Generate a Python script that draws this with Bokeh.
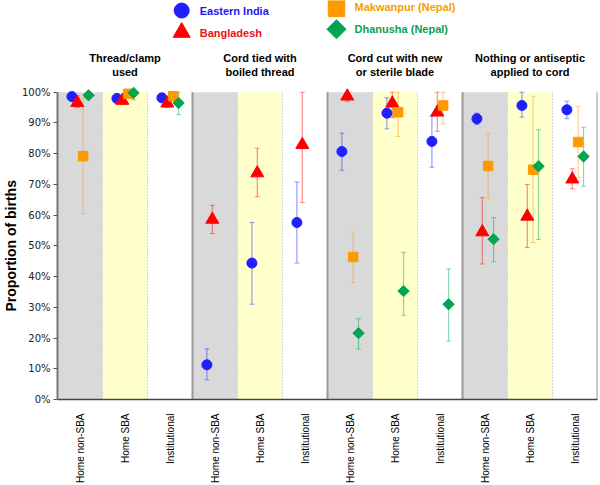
import numpy as np
from bokeh.plotting import figure
from bokeh.models import (ColumnDataSource, Whisker, TeeHead, FixedTicker,
                          NumeralTickFormatter, Range1d, Title)
from bokeh.core.properties import value
from bokeh.embed import file_html
from bokeh.resources import INLINE

# ---------------- data ----------------
title_line1 = ["Thread/clamp", "Cord tied with", "Cord cut with new", "Nothing or antiseptic"]
title_line2 = ["used", "boiled thread", "or sterile blade", "applied to cord"]
places = ["Home non-SBA", "Home SBA", "Institutional"]
y_ticks = [0.0, 0.1, 0.2, 0.3, 0.4, 0.5, 0.6, 0.7, 0.8, 0.9, 1.0]
y_label = "Proportion of births"

series_names = ["Eastern India", "Bangladesh", "Makwanpur (Nepal)", "Dhanusha (Nepal)"]
series_colors = ["#1f1fff", "#ff0000", "#ff9900", "#00a651"]
text_colors = ["#1a1aee", "#ee1111", "#f59f00", "#10a050"]

nan = float("nan")
india = [98.6, 98.0, 98.2, 11.3, 44.4, 57.6, 80.7, 93.2, 84.0, 91.4, 95.7, 94.3]
india_lo = [97.5, 96.5, 96.8, 6.4, 31.0, 44.4, 74.6, 88.1, 75.6, 89.5, 91.9, 91.4]
india_hi = [99.5, 99.5, 99.6, 16.5, 57.6, 70.8, 86.7, 98.2, 92.2, 93.2, 100.0, 97.1]

bangladesh = [96.6, 97.3, 96.4, 58.6, 73.7, 82.9, 98.7, 96.4, 93.5, 54.5, 59.6, 71.7]
bangladesh_lo = [95.0, 96.0, 95.0, 54.0, 66.0, 64.1, 97.0, 91.7, 87.3, 44.1, 49.5, 68.6]
bangladesh_hi = [98.9, 98.5, 97.8, 63.2, 81.8, 100.0, 99.5, 100.0, 100.0, 65.7, 70.0, 75.1]

makwanpur = [79.2, 99.5, 98.7, nan, nan, nan, 46.4, 93.5, 95.7, 76.0, 74.8, 83.8]
makwanpur_lo = [60.5, 98.0, 97.0, nan, nan, nan, 38.1, 85.6, 89.7, 65.4, 51.1, 72.2]
makwanpur_hi = [98.0, 100.0, 100.0, nan, nan, nan, 54.5, 100.0, 100.0, 86.7, 98.7, 95.4]

dhanusha = [99.0, 99.8, 96.5, nan, nan, nan, 21.6, 35.3, 31.0, 52.2, 75.9, 79.1]
dhanusha_lo = [98.0, 97.5, 92.7, nan, nan, nan, 16.4, 27.4, 19.0, 44.8, 52.1, 69.4]
dhanusha_hi = [100.0, 100.0, 100.0, nan, nan, nan, 26.3, 47.9, 42.5, 59.2, 87.8, 88.6]

values = [india, bangladesh, makwanpur, dhanusha]
lows = [india_lo, bangladesh_lo, makwanpur_lo, dhanusha_lo]
highs = [india_hi, bangladesh_hi, makwanpur_hi, dhanusha_hi]

# ---------------- layout / style ----------------
offsets = [-0.18, -0.06, 0.07, 0.19]
marker_kind = ["circle", "triangle", "square", "square"]
marker_angle = [0, 0, 0, np.pi / 4]
marker_size = [10, 13, 9.5, 8]
legend_size = [15, 17, 16.5, 13.5]

n_cat = len(title_line1) * len(places)
Y_TOP = 1.2987

p = figure(width=600, height=485, output_backend="svg", toolbar_location=None,
           x_range=Range1d(0, n_cat), y_range=Range1d(0, Y_TOP),
           min_border_left=57, min_border_right=3, min_border_top=0, min_border_bottom=85)
p.outline_line_color = None
p.xgrid.grid_line_color = None
p.ygrid.grid_line_color = None
p.background_fill_color = "white"

# backgrounds
bg_cols = ["#d9d9d9", "#ffffcc", "#ffffff"]
lefts = list(range(n_cat))
p.quad(left=lefts, right=[l + 1 for l in lefts], bottom=0, top=1,
       fill_color=[bg_cols[i % 3] for i in lefts], line_color=None, level="image")
inner = [i for i in range(1, n_cat) if i % 3 != 0]
p.segment(x0=inner, y0=0, x1=inner, y1=1, line_color="#b0b0b0", line_dash="1 2",
          line_width=1, level="image")
seps = [3, 6, 9, 12]
p.segment(x0=seps, y0=0, x1=seps, y1=1, line_color="#9a9a9a", line_width=2, level="image")

# error bars and markers
for k in range(4):
    xs, ys, lo, hi = [], [], [], []
    for i in range(n_cat):
        v = values[k][i]
        if np.isnan(v):
            continue
        xs.append(i + 0.5 + offsets[k])
        ys.append(v / 100)
        lo.append(lows[k][i] / 100)
        hi.append(highs[k][i] / 100)
    src = ColumnDataSource(dict(x=xs, y=ys, lo=lo, hi=hi))
    col = series_colors[k]
    w = Whisker(base="x", lower="lo", upper="hi", source=src, line_color=col,
                line_alpha=0.45, line_width=1.2, level="underlay",
                upper_head=TeeHead(size=5, line_color=col, line_alpha=0.45),
                lower_head=TeeHead(size=5, line_color=col, line_alpha=0.45))
    p.add_layout(w)
    p.scatter(x="x", y="y", source=src, marker=marker_kind[k], size=marker_size[k],
              angle=marker_angle[k], fill_color=col, line_color=col)

# legend (drawn manually)
leg_mx = [2.76, 2.76, 6.2, 6.2]
leg_tx = [3.16, 3.16, 6.6, 6.6]
leg_my = [1.266, 1.195, 1.273, 1.205]
leg_ty = [1.263, 1.193, 1.276, 1.207]
for k in range(4):
    p.scatter(x=[leg_mx[k]], y=[leg_my[k]], marker=marker_kind[k], size=legend_size[k],
              angle=marker_angle[k], fill_color=series_colors[k], line_color=series_colors[k])
    p.text(x=[leg_tx[k]], y=[leg_ty[k]], text=[series_names[k]], text_color=text_colors[k],
           text_font=value("Liberation Sans"), text_font_style="bold", text_font_size="11px",
           text_align="left", text_baseline="middle")

# panel titles
centers = [1.5 + 3 * j for j in range(len(title_line1))]
p.text(x=centers, y=[1.110] * 4, text=title_line1, text_font=value("Liberation Sans"),
       text_font_style="bold", text_font_size="11px", text_align="center",
       text_baseline="middle", text_color="black")
p.text(x=centers, y=[1.065] * 4, text=title_line2, text_font=value("Liberation Sans"),
       text_font_style="bold", text_font_size="11px", text_align="center",
       text_baseline="middle", text_color="black")

# y axis
p.yaxis.bounds = (0, 1)
p.yaxis.ticker = FixedTicker(ticks=y_ticks)
p.yaxis.formatter = NumeralTickFormatter(format="0%")
p.yaxis.minor_tick_line_color = None
p.yaxis.major_tick_in = 0
p.yaxis.major_tick_out = 4
p.yaxis.axis_line_color = "#777777"
p.yaxis.axis_line_width = 2
p.yaxis.major_tick_line_color = "#555555"
p.yaxis.major_label_text_font = "DejaVu Sans"
p.yaxis.major_label_text_font_size = "10px"
p.yaxis.major_label_text_color = "#222222"
p.yaxis.major_label_standoff = 3

# y-axis title placed as a side title, positioned along the 0-100% span
p.add_layout(Title(text=y_label, align="left", offset=88, standoff=0,
                   text_font="Liberation Sans", text_font_style="bold",
                   text_font_size="14px", text_color="black"), "left")

# x axis
tick_pos = [i + 0.5 for i in range(n_cat)]
p.xaxis.ticker = FixedTicker(ticks=tick_pos)
p.xaxis.major_label_overrides = {i + 0.5: places[i % 3] for i in range(n_cat)}
p.xaxis.major_label_orientation = np.pi / 2
p.xaxis.major_tick_line_color = None
p.xaxis.minor_tick_line_color = None
p.xaxis.axis_line_color = "#444444"
p.xaxis.axis_line_width = 1.5
p.xaxis.major_label_text_font = "Liberation Sans"
p.xaxis.major_label_text_font_size = "10px"
p.xaxis.major_label_text_color = "black"
p.xaxis.major_label_standoff = 8

open("out.html", "w").write(file_html(p, INLINE))
